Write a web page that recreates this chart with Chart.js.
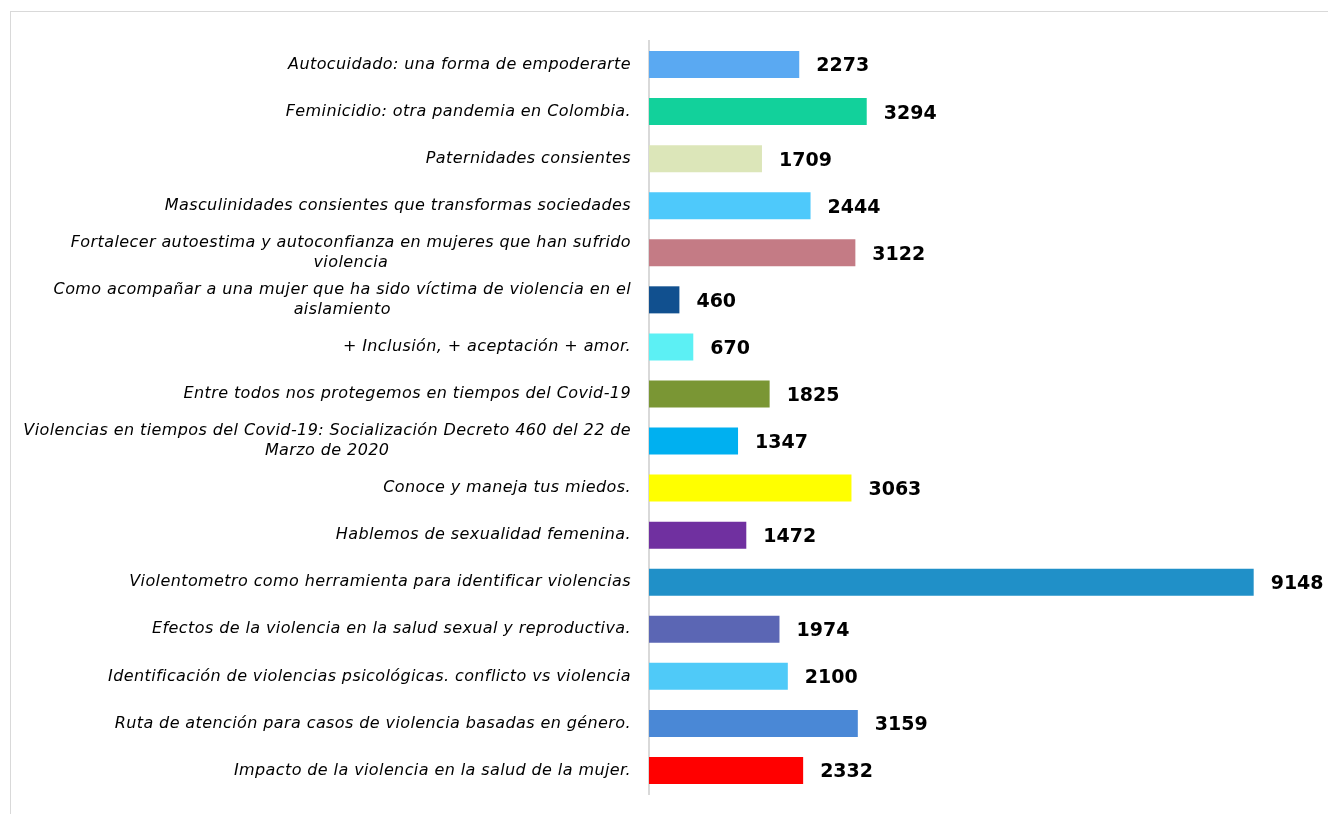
<!DOCTYPE html>
<html>
<head>
<meta charset="utf-8">
<script src="https://cdn.jsdelivr.net/npm/chart.js@4.4.1/dist/chart.umd.min.js"></script>
<style>
    html, body { margin: 0; padding: 0; background: #fff; }
    #frame {
        position: absolute; left: 10px; top: 11px; width: 1400px; height: 900px;
        border: 1px solid #d9d9d9; box-sizing: border-box;
    }
    #wrap { position: absolute; left: 0; top: 0; width: 1328px; height: 814px; }
</style>
</head>
<body>
<div id="frame"></div>
<div id="wrap"><canvas id="chart" width="1328" height="814"></canvas></div>
<script>
// talleres y numero de asistentes
const temas = [
    ['Autocuidado: una forma de empoderarte'],
    ['Feminicidio: otra pandemia en Colombia.'],
    ['Paternidades consientes'],
    ['Masculinidades consientes que transformas sociedades'],
    ['Fortalecer autoestima y autoconfianza en mujeres que han sufrido', 'violencia'],
    ['Como acompañar a una mujer que ha sido víctima de violencia en el', 'aislamiento'],
    ['+ Inclusión, + aceptación + amor.'],
    ['Entre todos nos protegemos en tiempos del Covid-19'],
    ['Violencias en tiempos del Covid-19: Socialización Decreto 460 del 22 de', 'Marzo de 2020'],
    ['Conoce y maneja tus miedos.'],
    ['Hablemos de sexualidad femenina.'],
    ['Violentometro como herramienta para identificar violencias'],
    ['Efectos de la violencia en la salud sexual y reproductiva.'],
    ['Identificación de violencias psicológicas. conflicto vs violencia'],
    ['Ruta de atención para casos de violencia basadas en género.'],
    ['Impacto de la violencia en la salud de la mujer.']
];
const asistentes = [2273, 3294, 1709, 2444, 3122, 460, 670, 1825, 1347, 3063, 1472, 9148, 1974, 2100, 3159, 2332];
const colores = ['#5aa9f2', '#12d19b', '#dce6b9', '#4ec9fb', '#c47b85', '#11508f', '#5cf0f4', '#7a9634',
    '#00b0f0', '#ffff00', '#7030a0', '#2090c8', '#5b66b4', '#4fcaf8', '#4a88d6', '#ff0000'];

const LABEL_FONT = 'italic 16px "DejaVu Sans"';
const VALUE_FONT = 'bold 19px "DejaVu Sans"';

// dibuja etiquetas de categoria y valores
const labelPlugin = {
    id: 'labelPlugin',
    afterDatasetsDraw(chart) {
        const ctx = chart.ctx;
        const yScale = chart.scales.y;
        const xScale = chart.scales.x;
        ctx.save();
        ctx.fillStyle = '#000';
        ctx.textBaseline = 'middle';

        // categorias
        ctx.font = LABEL_FONT;
        if ('letterSpacing' in ctx) ctx.letterSpacing = '0.4px';
        const rightX = yScale.right - 18;
        chart.data.labels.forEach((lines, i) => {
            const y = yScale.getPixelForTick(i);
            const lh = 20;
            const top = y - (lines.length - 1) * lh / 2;
            const w0 = ctx.measureText(lines[0]).width;
            ctx.textAlign = 'right';
            ctx.fillText(lines[0], rightX, top);
            for (let k = 1; k < lines.length; k++) {
                ctx.textAlign = 'center';
                ctx.fillText(lines[k], rightX - w0 / 2, top + k * lh);
            }
        });

        // valores
        ctx.font = VALUE_FONT;
        if ('letterSpacing' in ctx) ctx.letterSpacing = '0px';
        ctx.textAlign = 'left';
        chart.data.datasets[0].data.forEach((v, i) => {
            const x = xScale.getPixelForValue(v);
            const y = yScale.getPixelForTick(i);
            ctx.fillText(String(v), x + 17, y + 2);
        });
        ctx.restore();
    }
};

new Chart(document.getElementById('chart'), {
    type: 'bar',
    data: {
        labels: temas,
        datasets: [{
            data: asistentes,
            backgroundColor: colores,
            borderWidth: 0,
            categoryPercentage: 1,
            barPercentage: 0.575
        }]
    },
    options: {
        indexAxis: 'y',
        responsive: false,
        animation: false,
        layout: { padding: { left: 0, right: 18, top: 41, bottom: 20 } },
        plugins: {
            legend: { display: false },
            tooltip: { enabled: false }
        },
        scales: {
            x: {
                min: 0,
                max: 10000,
                display: false
            },
            y: {
                ticks: { display: false },
                grid: { display: false },
                border: { display: true, color: '#d9d9d9', width: 2 },
                afterFit(scale) { scale.width = 649; }
            }
        }
    },
    plugins: [labelPlugin]
});
</script>
</body>
</html>
